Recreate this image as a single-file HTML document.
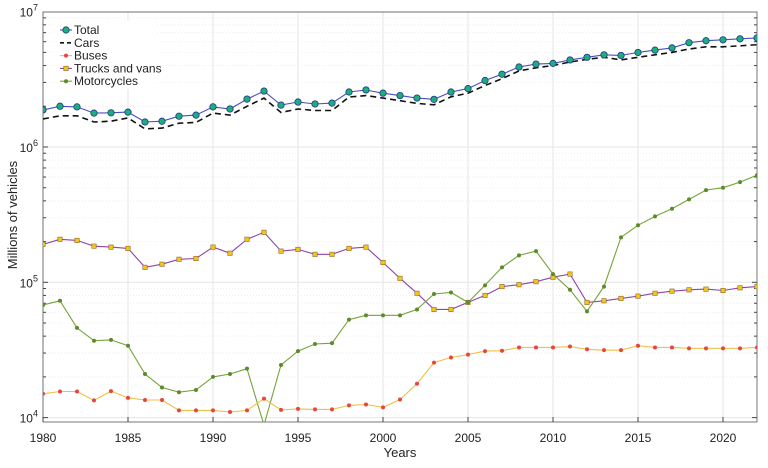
<!DOCTYPE html>
<html><head><meta charset="utf-8"><style>
body{margin:0;background:#fff;width:768px;height:463px;overflow:hidden}
svg{font-family:"Liberation Sans",sans-serif}
</style></head><body>
<svg id="chart" width="768" height="463" viewBox="0 0 768 463"></svg>
<script>
const years=[];for(let y=1980;y<=2022;y++)years.push(y);
const total=[1.88e6,2.0e6,1.98e6,1.78e6,1.79e6,1.81e6,1.53e6,1.55e6,1.69e6,1.72e6,1.98e6,1.91e6,2.26e6,2.59e6,2.04e6,2.15e6,2.08e6,2.11e6,2.55e6,2.64e6,2.5e6,2.4e6,2.3e6,2.25e6,2.55e6,2.7e6,3.1e6,3.45e6,3.9e6,4.1e6,4.15e6,4.4e6,4.6e6,4.8e6,4.75e6,5.0e6,5.2e6,5.4e6,5.9e6,6.1e6,6.2e6,6.3e6,6.4e6];
const cars=[1.61e6,1.7e6,1.7e6,1.53e6,1.55e6,1.64e6,1.36e6,1.38e6,1.5e6,1.52e6,1.78e6,1.72e6,2.0e6,2.3e6,1.8e6,1.91e6,1.86e6,1.86e6,2.34e6,2.4e6,2.3e6,2.2e6,2.1e6,2.05e6,2.35e6,2.5e6,2.85e6,3.2e6,3.65e6,3.85e6,4.0e6,4.25e6,4.45e6,4.6e6,4.4e6,4.6e6,4.8e6,5.0e6,5.3e6,5.5e6,5.5e6,5.6e6,5.7e6];
const buses=[1.5e4,1.56e4,1.56e4,1.34e4,1.57e4,1.4e4,1.35e4,1.35e4,1.13e4,1.13e4,1.13e4,1.1e4,1.13e4,1.38e4,1.14e4,1.16e4,1.15e4,1.15e4,1.23e4,1.25e4,1.19e4,1.36e4,1.78e4,2.55e4,2.78e4,2.92e4,3.1e4,3.12e4,3.3e4,3.3e4,3.3e4,3.35e4,3.2e4,3.15e4,3.15e4,3.4e4,3.3e4,3.3e4,3.25e4,3.25e4,3.25e4,3.25e4,3.3e4];
const trucks=[1.91e5,2.08e5,2.04e5,1.85e5,1.82e5,1.78e5,1.29e5,1.36e5,1.48e5,1.5e5,1.82e5,1.64e5,2.08e5,2.34e5,1.7e5,1.75e5,1.61e5,1.61e5,1.78e5,1.82e5,1.4e5,1.07e5,8.3e4,6.3e4,6.3e4,7.1e4,8.0e4,9.3e4,9.6e4,1.01e5,1.09e5,1.15e5,7.1e4,7.3e4,7.6e4,7.9e4,8.3e4,8.6e4,8.8e4,8.9e4,8.7e4,9.1e4,9.3e4];
const motos=[6.8e4,7.3e4,4.6e4,3.7e4,3.75e4,3.4e4,2.1e4,1.67e4,1.54e4,1.6e4,2.0e4,2.1e4,2.3e4,8.8e3,2.45e4,3.1e4,3.5e4,3.55e4,5.3e4,5.7e4,5.7e4,5.7e4,6.3e4,8.2e4,8.4e4,7.1e4,9.5e4,1.29e5,1.58e5,1.7e5,1.15e5,8.8e4,6.1e4,9.3e4,2.15e5,2.64e5,3.07e5,3.5e5,4.1e5,4.8e5,5.0e5,5.5e5,6.2e5];
const xTicks=[1980,1985,1990,1995,2000,2005,2010,2015,2020];
const yExps=[4,5,6,7];
const NS="http://www.w3.org/2000/svg";
const svg=document.getElementById('chart');
const L=43,R=757,T=12,B=422;
const x=v=>L+(v-1980)/(2022-1980)*(R-L);
const y=v=>147-(Math.log10(v)-6)*135.3;
function el(t,a,p){const e=document.createElementNS(NS,t);for(const k in a)e.setAttribute(k,a[k]);(p||svg).appendChild(e);return e;}
// clip
const defs=el('defs',{});const cp=el('clipPath',{id:'pc'},defs);el('rect',{x:L,y:T,width:R-L,height:B-T},cp);
// grid
const grid=el('g',{});


xTicks.forEach(t=>{el('line',{x1:x(t),x2:x(t),y1:T,y2:B,stroke:'#e6e6e6','stroke-width':1},grid);});
for(let e=3;e<=6;e++)for(let m=1;m<=9;m++){const v=m*Math.pow(10,e);const yy=y(v);if(yy<T||yy>B)continue;
 el('line',{x1:L,x2:R,y1:yy,y2:yy,stroke:m==1?'#e6e6e6':'#eeeeee','stroke-width':1,'stroke-dasharray':m==1?'':'1,2'},grid);
 el('line',{x1:L,x2:L+(m==1?5:3),y1:yy,y2:yy,stroke:'#444'},grid);el('line',{x1:R,x2:R-(m==1?5:3),y1:yy,y2:yy,stroke:'#444'},grid);}
el('line',{x1:L,x2:R,y1:T,y2:T,stroke:'#e6e6e6'},grid);
// axes box
const ax=el('rect',{x:L,y:T,width:R-L,height:B-T,fill:'none',stroke:'#555','stroke-width':0.8});

xTicks.forEach(t=>{el('line',{x1:x(t),x2:x(t),y1:B,y2:B-5,stroke:'#444'});
 const tx=el('text',{x:x(t),y:442,'font-size':12,'text-anchor':'middle',fill:'#222'});tx.textContent=t;
 });
yExps.forEach(e=>{const yy=y(Math.pow(10,e));
 const tx=el('text',{x:38,y:yy+5,'font-size':12,'text-anchor':'end',fill:'#222'});
 
 const a=el('tspan',{},tx);a.textContent='10';const b=el('tspan',{dy:-6,'font-size':9},tx);b.textContent=e;});
const xt=el('text',{x:400,y:457,'font-size':13,'text-anchor':'middle',fill:'#222'});xt.textContent='Years';

const yt=el('text',{x:0,y:0,'font-size':13,'text-anchor':'middle',fill:'#222',transform:'translate(17,215) rotate(-90)'});yt.textContent='Millions of vehicles';

// series
const series=[
 {d:trucks,c:'#8e44ad',mk:'sq',mf:'#f5c518',name:'trucks-and-vans-series'},
 {d:motos,c:'#77a33a',mk:'star',mf:'#5d8a2a',name:'motorcycles-series'},
 {d:buses,c:'#efc04a',mk:'dot',mf:'#e8453c',name:'buses-series'},
 {d:cars,c:'#111',dash:'6,4',mk:null,name:'cars-series'},
 {d:total,c:'#4a4fbf',mk:'circ',mf:'#1ab07a',name:'total-series'}];
function marker(g,mk,cx,cy,mf,c){
 if(mk=='circ')el('circle',{cx,cy,r:3.2,fill:mf,stroke:'#22338a','stroke-width':0.8},g);
 else if(mk=='sq')el('rect',{x:cx-2.2,y:cy-2.2,width:4.4,height:4.4,fill:mf,stroke:'#8a6a2a','stroke-width':0.6},g);
 else if(mk=='dot')el('circle',{cx,cy,r:2,fill:mf},g);
 else if(mk=='star')el('circle',{cx,cy,r:2,fill:mf},g);}
series.forEach(s=>{const g=el('g',{'clip-path':'url(#pc)'});
 
 const pts=s.d.map((v,i)=>x(years[i]).toFixed(1)+','+y(v).toFixed(1)).join(' ');
 const a={points:pts,fill:'none',stroke:s.c,'stroke-width':s.dash?1.6:1.1};if(s.dash)a['stroke-dasharray']=s.dash;
 el('polyline',a,g);
 if(s.mk)s.d.forEach((v,i)=>marker(g,s.mk,x(years[i]),y(v),s.mf,s.c));});
// legend
const lg=el('g',{});
el('rect',{x:55,y:21,width:100,height:68,fill:'#fff'},lg);
const items=[['Total','#4a4fbf','circ','#1ab07a'],['Cars','#111',null],['Buses','#efc04a','dot','#e8453c'],['Trucks and vans','#8e44ad','sq','#f5c518'],['Motorcycles','#77a33a','star','#5d8a2a']];
items.forEach((it,i)=>{const yy=30+i*12.8;const g=el('g',{},lg);
 
 const a={x1:60,x2:72,y1:yy,y2:yy,stroke:it[1],'stroke-width':it[2]?1.1:1.6};if(!it[2])a['stroke-dasharray']='4,3';
 el('line',a,g);if(it[2])marker(g,it[2],66,yy,it[3],it[1]);
 const t=el('text',{x:74,y:yy+4,'font-size':12,fill:'#222'},g);t.textContent=it[0];});
</script>
</body></html>
